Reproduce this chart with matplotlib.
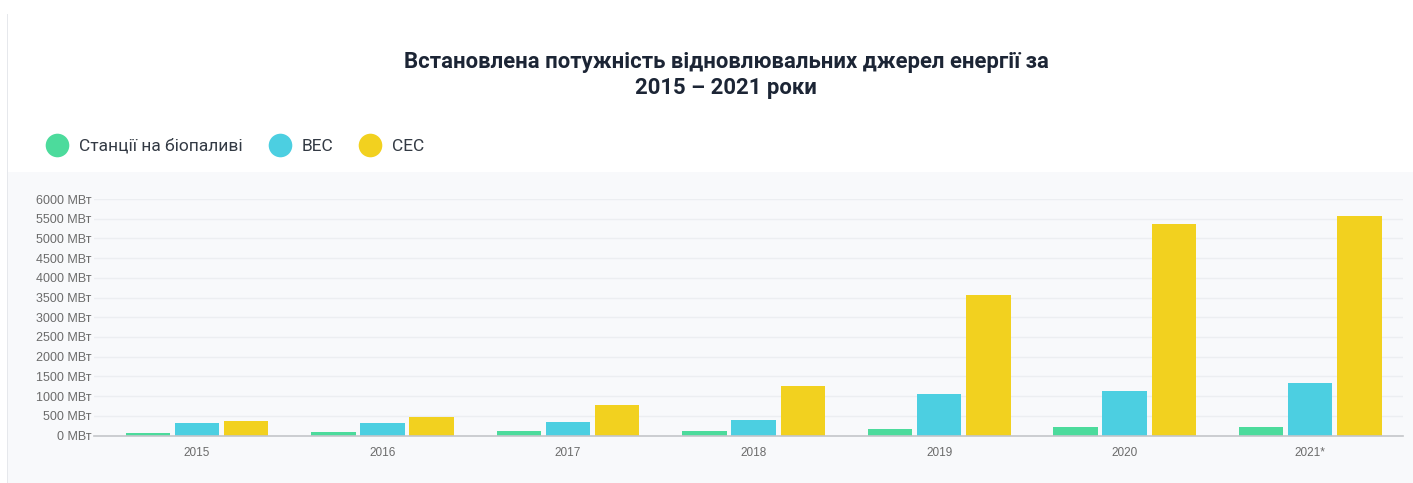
import numpy as np
import matplotlib.pyplot as plt
from matplotlib.lines import Line2D
from matplotlib.patches import Rectangle

years = ['2015', '2016', '2017', '2018', '2019', '2020', '2021*']
bio = [70, 85, 110, 110, 160, 220, 220]
wind = [305, 325, 350, 405, 1050, 1125, 1320]
solar = [375, 475, 780, 1245, 3555, 5370, 5570]
series_names = ['Станції на біопаливі', 'ВЕС', 'СЕС']
colors = ['#4cdb9c', '#4ccfe1', '#f2d11f']
yticks = list(range(0, 6001, 500))

plt.rcParams['font.family'] = ['Liberation Sans', 'DejaVu Sans']

fig = plt.figure(figsize=(14.13, 4.83), dpi=100)
fig.patch.set_facecolor('white')
# light panel behind the plot
fig.patches.append(Rectangle((8 / 1413, 0), 1 - 8 / 1413, 1 - 172 / 483,
                             transform=fig.transFigure, facecolor='#f8f9fb',
                             edgecolor='none', zorder=-2))
fig.patches.append(Rectangle((7 / 1413, 0), 1.2 / 1413, 1 - 14 / 483,
                             transform=fig.transFigure, facecolor='#e6e8ec',
                             edgecolor='none', zorder=-2))

ax = fig.add_axes([94 / 1413, 1 - 435.5 / 483, 1309 / 1413, 236.5 / 483])
ax.set_facecolor('none')
ax.set_zorder(1)

x = np.arange(len(years))
w = 0.24
step = 0.265
for i, (vals, c) in enumerate(zip([bio, wind, solar], colors)):
    ax.bar(x + (i - 1) * step, vals, width=w, color=c, zorder=3)

ax.set_xlim(-0.555, len(years) - 0.5)
ax.set_ylim(0, 6000)
ax.set_yticks(yticks)
ax.set_yticklabels([f'{v} МВт' for v in yticks])
ax.set_xticks(x)
ax.set_xticklabels(years)
ax.tick_params(axis='y', length=0, pad=2, labelsize=9, labelcolor='#6b6b6b')
ax.tick_params(axis='x', length=0, pad=8, labelsize=8.5, labelcolor='#6b6b6b')
ax.grid(axis='y', color='#eceef1', linewidth=1, zorder=0)
for s in ['top', 'right', 'left']:
    ax.spines[s].set_visible(False)
ax.spines['bottom'].set_color('#c4c6ca')
ax.spines['bottom'].set_linewidth(1.2)
ax.spines['bottom'].set_zorder(4)

fig.text(726 / 1413, 1 - 75 / 483, 'Встановлена потужність відновлювальних джерел енергії за\n2015 – 2021 роки',
         ha='center', va='center', fontsize=15.9, fontweight='bold', color='#1c2535',
         family=['Roboto', 'DejaVu Sans'], linespacing=1.2)

handles = [Line2D([], [], marker='o', linestyle='none', markersize=17,
                  markerfacecolor=c, markeredgecolor='none') for c in colors]
fig.legend(handles, series_names, loc='center left', bbox_to_anchor=(0.017, 1 - 146 / 483),
           ncol=3, frameon=False, handletextpad=0.25, columnspacing=1.15,
           prop={'family': ['Roboto', 'DejaVu Sans'], 'size': 12.5}, labelcolor='#333a44')

fig.savefig('out.png', dpi=100, facecolor='white')
